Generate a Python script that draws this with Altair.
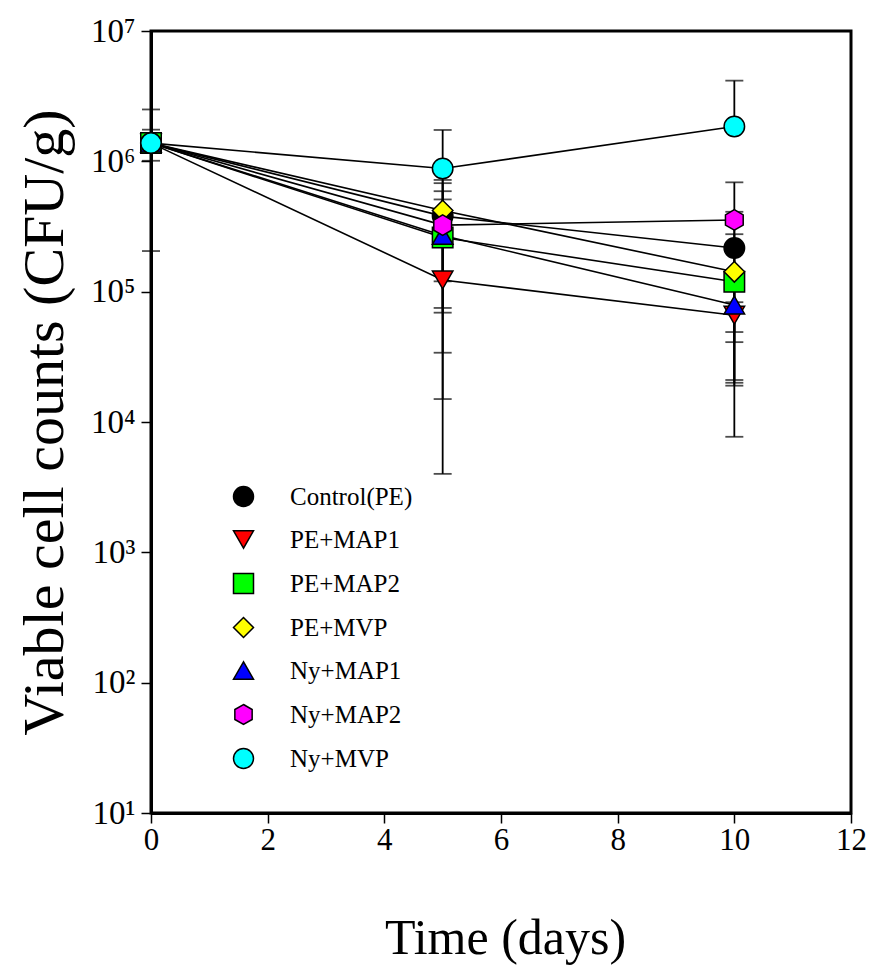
import altair as alt
import pandas as pd

series = ["Control(PE)", "PE+MAP1", "PE+MAP2", "PE+MVP", "Ny+MAP1", "Ny+MAP2", "Ny+MVP"]
days = [0, 5, 10]
fills = ["#000000", "#ff0000", "#00ff00", "#ffff00", "#0000ff", "#ff00ff", "#00ffff"]
hexagon = "M0,-1L0.866,-0.5L0.866,0.5L0,1L-0.866,0.5L-0.866,-0.5Z"
shapes = ["circle", "triangle-down", "square", "diamond", "triangle-up", hexagon, "circle"]

# mean viable counts (CFU/g) at days 0, 5, 10
m_control = [1.38e6, 3.8e5, 2.16e5]
m_pe_map1 = [1.38e6, 1.23e5, 6.6e4]
m_pe_map2 = [1.38e6, 2.6e5, 1.19e5]
m_pe_mvp = [1.38e6, 4.2e5, 1.42e5]
m_ny_map1 = [1.38e6, 2.7e5, 7.9e4]
m_ny_map2 = [1.38e6, 3.24e5, 3.55e5]
m_ny_mvp = [1.38e6, 8.8e5, 1.85e6]

# lower / upper error-bar ends (None = not visible)
lo_control = [2.05e5, 7.5e4, 2.1e4]
hi_control = [2.5e6, 6.8e5, 4.1e5]
lo_pe_map1 = [None, 4.0e3, 4.9e4]
hi_pe_map1 = [None, 2.45e5, 8.3e4]
lo_pe_map2 = [None, 3.4e4, 1.9e4]
hi_pe_map2 = [None, 5.1e5, 2.2e5]
lo_pe_mvp = [None, 1.2e5, 7.7e3]
hi_pe_mvp = [None, 7.2e5, 2.76e5]
lo_ny_map1 = [None, None, 4.1e4]
hi_ny_map1 = [None, None, 1.17e5]
lo_ny_map2 = [None, 6.9e4, 2.0e4]
hi_ny_map2 = [None, 5.9e5, 6.9e5]
lo_ny_mvp = [1.01e6, 1.5e4, None]
hi_ny_mvp = [1.75e6, 1.74e6, 4.16e6]

means = [m_control, m_pe_map1, m_pe_map2, m_pe_mvp, m_ny_map1, m_ny_map2, m_ny_mvp]
los = [lo_control, lo_pe_map1, lo_pe_map2, lo_pe_mvp, lo_ny_map1, lo_ny_map2, lo_ny_mvp]
his = [hi_control, hi_pe_map1, hi_pe_map2, hi_pe_mvp, hi_ny_map1, hi_ny_map2, hi_ny_mvp]

rows, bars, caps = [], [], []
for i, s in enumerate(series):
    for j, d in enumerate(days):
        m = means[i][j]
        rows.append({"series": s, "order": i, "day": d, "value": m})
        lo, hi = los[i][j], his[i][j]
        if lo is not None or hi is not None:
            bars.append({"series": s, "day": d,
                         "lo": lo if lo is not None else m,
                         "hi": hi if hi is not None else m})
        for v in (lo, hi):
            if v is not None:
                caps.append({"series": s, "day": d, "v": v})

df = pd.DataFrame(rows)
dbar = pd.DataFrame(bars)
dcap = pd.DataFrame(caps)

FONT = "Liberation Serif"
xs = alt.Scale(domain=[0, 12], nice=False)
ys = alt.Scale(type="log", domain=[10, 1e7], nice=False)

x_axis = alt.Axis(values=[0, 2, 4, 6, 8, 10, 12], format="d", title="Time (days)", grid=False,
                  labelFont=FONT, labelFontSize=31, labelColor="black", labelPadding=2,
                  labelFlush=False, labelOverlap=False,
                  tickSize=10, tickWidth=1.5, tickColor="black",
                  domainColor="black", domainWidth=3,
                  titleFont=FONT, titleFontSize=50, titleFontWeight="normal", titleColor="black",
                  titleX=354, titleY=125, titleBaseline="middle", titleAlign="center")
y_axis = alt.Axis(values=[10, 100, 1000, 1e4, 1e5, 1e6, 1e7], title="Viable cell counts (CFU/g)",
                  grid=False,
                  labelExpr="{'10':'10¹','100':'10²','1000':'10³','10000':'10⁴','100000':'10⁵','1000000':'10⁶','10000000':'10⁷'}[format(datum.value,'d')]",
                  labelFont=FONT, labelFontSize=33, labelColor="black", labelPadding=6,
                  labelFlush=False, labelOverlap=False,
                  tickSize=10, tickWidth=1.5, tickColor="black",
                  domainColor="black", domainWidth=3,
                  titleFont=FONT, titleFontSize=58, titleFontWeight="normal", titleColor="black",
                  titleX=-106, titleY=391, titleAngle=-90, titleBaseline="middle", titleAlign="center")

bars_rule = alt.Chart(dbar).mark_rule(color="black", strokeWidth=1.8).encode(
    x=alt.X("day:Q", scale=xs, axis=x_axis),
    y=alt.Y("lo:Q", scale=ys, axis=y_axis),
    y2="hi:Q",
)
bar_caps = alt.Chart(dcap).mark_tick(color="black", thickness=1.8, size=18, orient="horizontal").encode(
    x=alt.X("day:Q", scale=xs),
    y=alt.Y("v:Q", scale=ys),
)
lines = alt.Chart(df).mark_line(color="black", strokeWidth=1.6).encode(
    x=alt.X("day:Q", scale=xs),
    y=alt.Y("value:Q", scale=ys),
    detail="series:N",
    order="day:Q",
)
legend = alt.Legend(title=None, orient="none", legendX=80, legendY=453, padding=0,
                    labelFont=FONT, labelFontSize=25, labelColor="black", labelOffset=34,
                    rowPadding=17, symbolSize=400, symbolStrokeColor="black",
                    symbolStrokeWidth=1.5, symbolFillColor="black")
points = alt.Chart(df).mark_point(filled=True, size=420, stroke="black", strokeWidth=1.5, opacity=1).encode(
    x=alt.X("day:Q", scale=xs),
    y=alt.Y("value:Q", scale=ys),
    fill=alt.Fill("series:N", scale=alt.Scale(domain=series, range=fills), legend=legend),
    shape=alt.Shape("series:N", scale=alt.Scale(domain=series, range=shapes), legend=legend),
    order="order:Q",
)

chart = alt.layer(bars_rule, bar_caps, lines, points).properties(
    width=700, height=782,
    background="white",
    autosize=alt.AutoSizeParams(type="none"),
    padding={"left": 143, "top": 23, "right": 16, "bottom": 160},
).configure_view(stroke="black", strokeWidth=3)

chart.save("out.html", embed_options={"renderer": "svg", "actions": False})
